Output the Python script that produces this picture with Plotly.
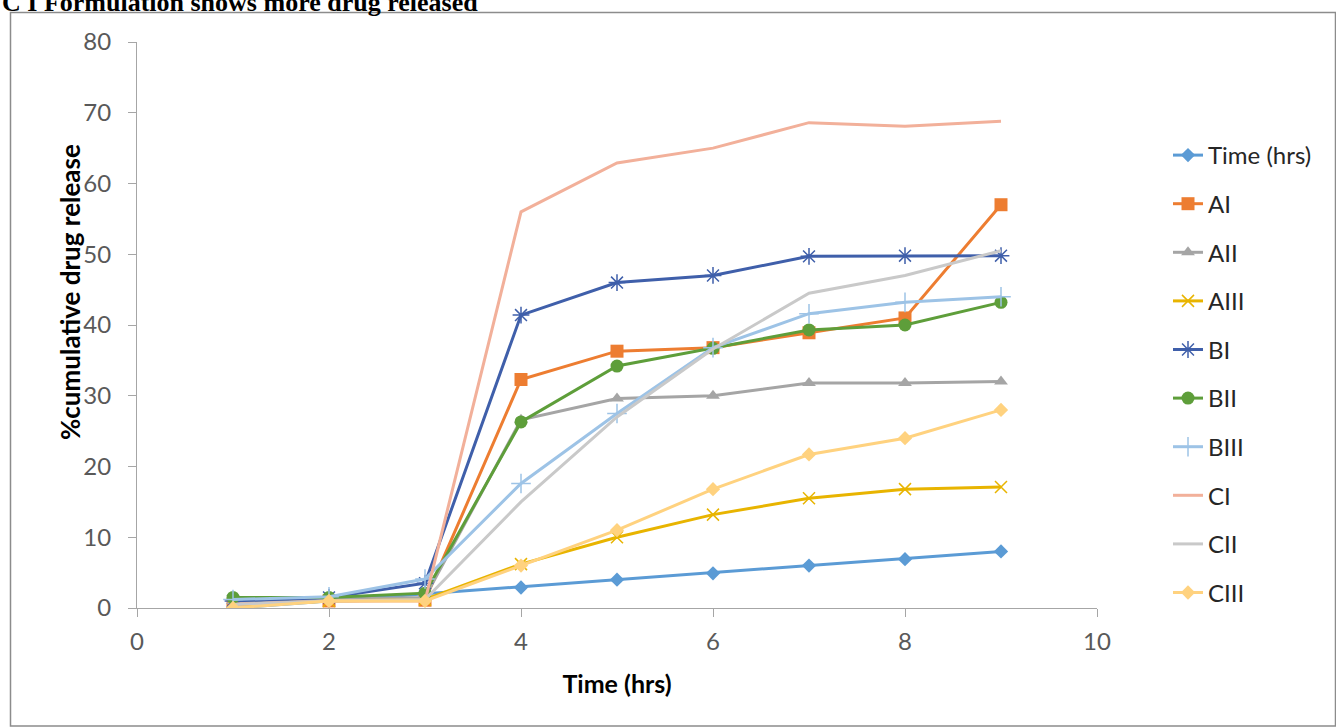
import plotly.graph_objects as go

# ---- data ----
time_hrs = [1, 2, 3, 4, 5, 6, 7, 8, 9]
series_names = ["Time (hrs)", "AI", "AII", "AIII", "BI", "BII", "BIII", "CI", "CII", "CIII"]
time_series = [0.0, 1.0, 2.0, 2.9, 4.0, 4.9, 6.0, 6.9, 8.0]
AI = [0.5, 1.0, 1.1, 32.3, 36.3, 36.8, 38.9, 41.0, 57.0]
AII = [1.0, 1.2, 1.5, 26.6, 29.6, 30.0, 31.8, 31.8, 32.0]
AIII = [0.3, 1.0, 1.2, 6.2, 10.0, 13.2, 15.5, 16.8, 17.1]
BI = [1.0, 1.5, 3.5, 41.4, 46.0, 47.0, 49.7, 49.8, 49.8]
BII = [1.5, 1.5, 2.1, 26.3, 34.2, 36.7, 39.3, 40.0, 43.2]
BIII = [1.2, 1.6, 4.1, 17.6, 27.5, 36.8, 41.6, 43.2, 44.0]
CI = [0.5, 1.0, 1.0, 56.0, 62.9, 65.0, 68.6, 68.1, 68.8]
CII = [0.5, 1.0, 1.2, 15.0, 27.0, 36.6, 44.5, 47.0, 50.5]
CIII = [0.0, 1.0, 1.0, 6.0, 11.0, 16.8, 21.7, 24.0, 28.0]
x_ticks = [0, 2, 4, 6, 8, 10]
y_ticks = [0, 10, 20, 30, 40, 50, 60, 70, 80]

values = [time_series, AI, AII, AIII, BI, BII, BIII, CI, CII, CIII]
colors = ["#5B9BD5", "#ED7D31", "#A5A5A5", "#E8B400", "#3F5FAA", "#5E9E3A",
          "#9DC3E6", "#F2B09A", "#C9C9C9", "#FFD27F"]
symbols = ["diamond", "square", "triangle-up", "x-thin-open", "asterisk-open",
           "circle", "cross-thin-open", None, None, "diamond"]
sizes = [11, 13, 12, 12, 14, 13, 14, 0, 0, 11]

fig = go.Figure()
for i, (name, vals) in enumerate(zip(series_names, values)):
    sym = symbols[i]
    if sym is None:
        mode = "lines"
        marker = dict()
    else:
        mode = "lines+markers"
        if sym.endswith("open"):
            marker = dict(symbol=sym, size=sizes[i], color=colors[i],
                          line=dict(color=colors[i], width=1.5))
        else:
            marker = dict(symbol=sym, size=sizes[i], color=colors[i],
                          line=dict(width=0))
    fig.add_trace(go.Scatter(
        x=time_hrs, y=vals, name=name, mode=mode,
        line=dict(color=colors[i], width=3),
        marker=marker, legendgroup=name,
    ))

L, R, T, B = 137, 239, 42, 119
W, H = 1336, 727
pw, ph = W - L - R, H - T - B

def px_x(px):
    return (px - L) / pw

def px_y(py):
    return (H - B - py) / ph

tick_font = dict(family="Lato, Calibri, sans-serif", size=24, color="#595959")

fig.update_layout(
    width=W, height=H,
    margin=dict(l=L, r=R, t=T, b=B),
    paper_bgcolor="white", plot_bgcolor="white",
    showlegend=True,
    legend=dict(
        x=px_x(1168), y=px_y(133), xanchor="left", yanchor="top",
        font=dict(family="Lato, Calibri, sans-serif", size=24, color="#262626"),
        tracegroupgap=14.4, bgcolor="rgba(0,0,0,0)",
    ),
    xaxis=dict(
        range=[0, 10], tickvals=x_ticks, ticks="outside", ticklen=8,
        tickcolor="#A6A6A6", showline=True, linecolor="#A6A6A6", linewidth=1,
        showgrid=False, zeroline=False, tickfont=tick_font,
        ticklabelstandoff=4,
        title=dict(text="<b>Time (hrs)</b>",
                   font=dict(family="Lato, Calibri, sans-serif", size=25, color="#000000"),
                   standoff=21),
    ),
    yaxis=dict(
        range=[0, 80], tickvals=y_ticks, ticks="outside", ticklen=8,
        tickcolor="#A6A6A6", showline=True, linecolor="#A6A6A6", linewidth=1,
        showgrid=False, zeroline=False, tickfont=tick_font,
        ticklabelstandoff=12,
    ),
    shapes=[dict(
        type="rect", xref="paper", yref="paper",
        x0=px_x(10.5), x1=px_x(1335.5), y0=px_y(726), y1=px_y(12.5),
        line=dict(color="#8C8C8C", width=1.5), fillcolor="rgba(0,0,0,0)", layer="below",
    )],
    annotations=[
        dict(
            text="<b>C I Formulation shows more drug released</b>",
            xref="paper", yref="paper", x=px_x(0), y=px_y(19),
            xanchor="left", yanchor="bottom", showarrow=False,
            font=dict(family="Liberation Serif, Times New Roman, serif", size=26, color="#000000"),
        ),
        dict(
            text="<b>%cumulative drug release</b>",
            xref="paper", yref="paper", x=px_x(70), y=px_y(292),
            xanchor="center", yanchor="middle", textangle=-90, showarrow=False,
            font=dict(family="Lato, Calibri, sans-serif", size=26, color="#000000"),
        ),
    ],
)

fig.write_html("out.html")
